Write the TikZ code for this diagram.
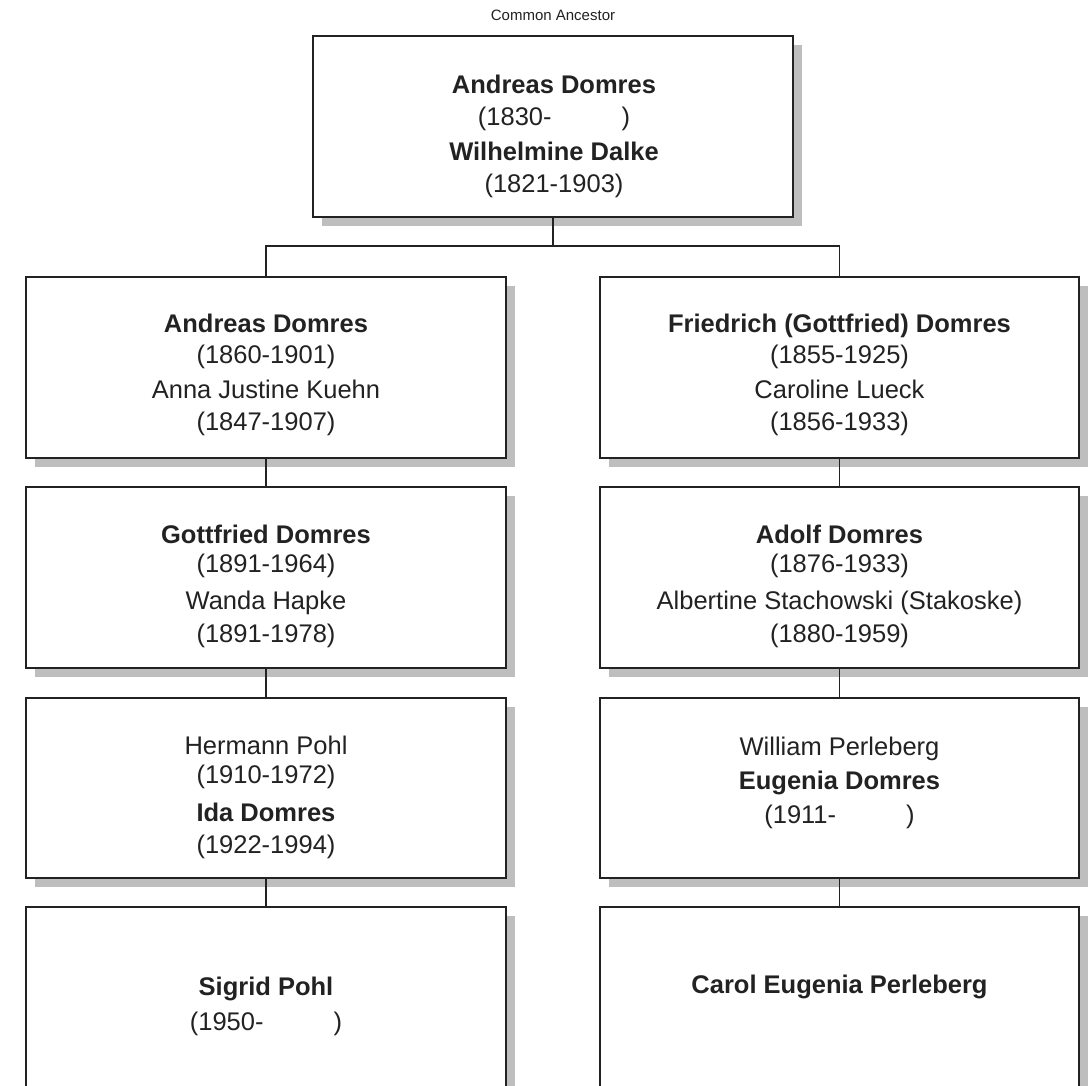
\documentclass[tikz,border=0pt]{standalone}
\usepackage{fontspec}
\setmainfont{Liberation Sans}
\usetikzlibrary{shadows}
\definecolor{ink}{HTML}{222222}
\definecolor{shade}{HTML}{BEBEBE}
\tikzset{
  person/.style={draw=ink, line width=2pt, fill=white, minimum width=480pt,
    minimum height=181pt, inner sep=0pt,
    drop shadow={shadow xshift=9pt, shadow yshift=-9pt, opacity=1, fill=shade}},
  ptext/.style={anchor=north, align=center, inner sep=0pt, text=ink,
    font=\fontsize{25.5pt}{30pt}\selectfont},
  link/.style={draw=ink, line width=1.6pt},
}
\newcommand{\nm}[1]{\textbf{#1}}
\begin{document}
\begin{tikzpicture}[x=1pt, y=-1pt]
\useasboundingbox[fill=white] (0,0) rectangle (1089,1085);
\clip (0,0) rectangle (1089,1085);

\node[anchor=base, text=ink, inner sep=0pt, font=\fontsize{15pt}{18pt}\selectfont] (ca) at (553,20) {Common Ancestor};

% boxes
\node[person] (top) at (553,126.5) {};
\node[person] (l1) at (266,367) {};
\node[person, minimum width=479pt] (r1) at (839.5,367) {};
\node[person] (l2) at (266,577) {};
\node[person, minimum width=479pt] (r2) at (839.5,577) {};
\node[person, minimum height=180pt] (l3) at (266,787.5) {};
\node[person, minimum width=479pt, minimum height=180pt] (r3) at (839.5,787.5) {};
\node[person, minimum height=200pt] (l4) at (266,1007) {};
\node[person, minimum width=479pt, minimum height=200pt] (r4) at (839.5,1007) {};

% texts
\node[ptext] (ttop) at (554,74.5) {\nm{Andreas Domres}\\[2pt](1830-\hspace{70pt})\\[5pt]\nm{Wilhelmine Dalke}\\[2pt](1821-1903)};
\node[ptext] (tl1) at (266,314) {\nm{Andreas Domres}\\[1pt](1860-1901)\\[5pt]Anna Justine Kuehn\\[2pt](1847-1907)};
\node[ptext] (tr1) at (839.5,313.5) {\nm{Friedrich (Gottfried) Domres}\\[1pt](1855-1925)\\[5pt]Caroline Lueck\\[2pt](1856-1933)};
\node[ptext] (tl2) at (266,524.5) {\nm{Gottfried Domres}\\[-1pt](1891-1964)\\[7pt]Wanda Hapke\\[3pt](1891-1978)};
\node[ptext] (tr2) at (839.5,524.5) {\nm{Adolf Domres}\\[-1pt](1876-1933)\\[7pt]Albertine Stachowski (Stakoske)\\[3pt](1880-1959)};
\node[ptext] (tl3) at (266,735.5) {Hermann Pohl\\[-1pt](1910-1972)\\[8pt]\nm{Ida Domres}\\[2pt](1922-1994)};
\node[ptext] (tr3) at (839.5,736.5) {William Perleberg\\[4pt]\nm{Eugenia Domres}\\[4pt](1911-\hspace{70pt})};
\node[ptext] (tl4) at (266,976.5) {\nm{Sigrid Pohl}\\[5pt](1950-\hspace{70pt})};
\node[ptext] (tr4) at (839.5,974.5) {\nm{Carol Eugenia Perleberg}};

% connectors
\coordinate (j) at (553,246);
\draw[link] (top.south) -- (j);
\draw[link] (l1.north) |- (j) -| (r1.north);
\draw[link] (l1.south) -- (l2.north);
\draw[link] (l2.south) -- (l3.north);
\draw[link] (l3.south) -- (l4.north);
\draw[link] (r1.south) -- (r2.north);
\draw[link] (r2.south) -- (r3.north);
\draw[link] (r3.south) -- (r4.north);
\end{tikzpicture}
\end{document}
